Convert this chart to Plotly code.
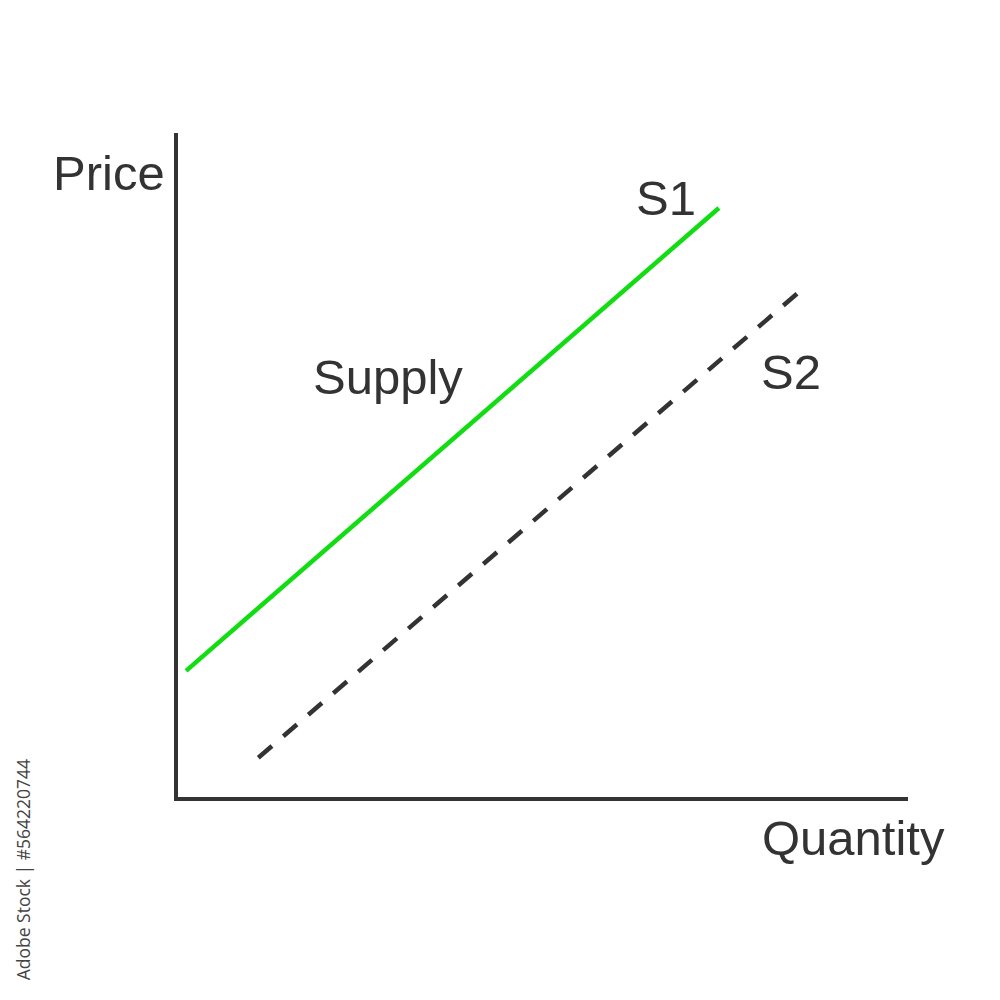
import plotly.graph_objects as go

# supply curves, in chart units (axes run 0..10)
s1_quantity = [0.11, 7.41]
s1_price = [1.90, 8.87]
s2_quantity = [1.10, 8.48]
s2_price = [0.59, 7.58]

ink = "#333333"
font_name = "Liberation Sans, Arial, sans-serif"

fig = go.Figure()

fig.add_trace(go.Scatter(
    x=s1_quantity, y=s1_price, mode="lines",
    line=dict(color="#12dc12", width=4.5),
    name="S1", hoverinfo="skip"
))
fig.add_trace(go.Scatter(
    x=s2_quantity, y=s2_price, mode="lines",
    line=dict(color=ink, width=4.5, dash="18px,15px"),
    name="S2", hoverinfo="skip"
))

# labels placed in paper coordinates so the ones outside the axes still show
labels = [
    ("Price", -0.095, 0.940),
    ("S1", 0.668, 0.902),
    ("Supply", 0.287, 0.633),
    ("S2", 0.840, 0.640),
    ("Quantity", 0.926, -0.062),
]
for text, x, y in labels:
    fig.add_annotation(
        xref="paper", yref="paper", x=x, y=y, text=text, showarrow=False,
        xanchor="center", yanchor="middle",
        font=dict(family=font_name, size=49, color=ink)
    )

fig.add_annotation(
    xref="paper", yref="paper", x=-0.212, y=-0.110,
    text="Adobe Stock | #564220744", showarrow=False, textangle=-90,
    xanchor="center", yanchor="middle",
    font=dict(family="Open Sans, DejaVu Sans, sans-serif", size=17.5, color="#444444")
)

axis_style = dict(
    range=[0, 10], showline=True, linewidth=4, linecolor=ink,
    showgrid=False, zeroline=False, showticklabels=False, ticks="",
    fixedrange=True
)

fig.update_layout(
    width=1000, height=1000,
    margin=dict(l=170, r=100, t=125, b=211),
    paper_bgcolor="white", plot_bgcolor="white",
    showlegend=False,
    xaxis=axis_style,
    yaxis=axis_style,
)

fig.write_html("out.html")
